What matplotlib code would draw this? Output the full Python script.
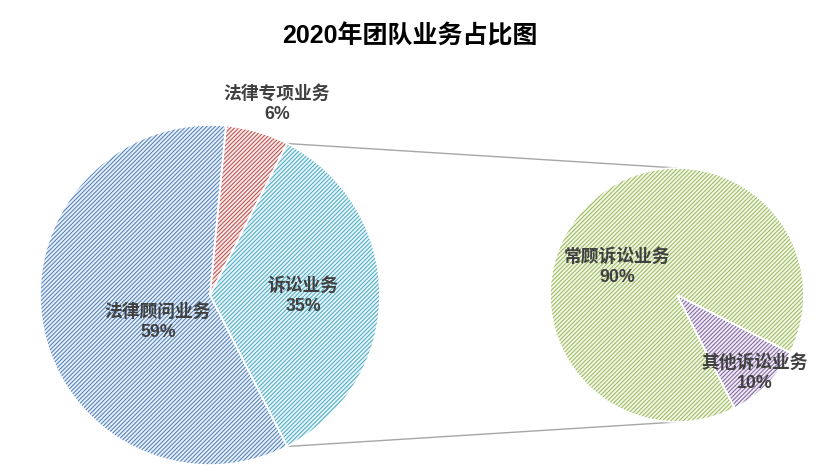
import matplotlib
matplotlib.use('Agg')
import matplotlib.pyplot as plt
import matplotlib.colors as mcolors
import numpy as np

# ---------------- data ----------------
title = '2020年团队业务占比图'
categories = ['法律顾问业务', '法律专项业务', '诉讼业务']
shares = [59, 6, 35]
sub_categories = ['常顾诉讼业务', '其他诉讼业务']
sub_shares = [90, 10]

# ---------------- style ----------------
main_colors = ['#4F81BD', '#C0504D', '#4BACC6']
sub_colors = ['#9BBB59', '#8064A2']
FONTS = ['Liberation Sans', 'Noto Sans CJK SC', 'DejaVu Sans']
plt.rcParams['font.family'] = FONTS
plt.rcParams['hatch.linewidth'] = 0.75
TXT = '#404040'

W, H = 840, 475
fig = plt.figure(figsize=(W / 100, H / 100), dpi=100)
ax = fig.add_axes([0, 0, 1, 1])


def py(y):
    return H - y


def tint(c, f=0.12):
    r = np.array(mcolors.to_rgb(c))
    return tuple(1 - f * (1 - r))


main_center = (210, py(295))
main_r = 170
sub_center = (677, py(295))
sub_r = 127

# main pie: clockwise order 专项 -> 诉讼 -> 顾问, 诉讼 slice centred at 3 o'clock
order = [1, 2, 0]
vals = [shares[i] for i in order]
cols = [main_colors[i] for i in order]
total = sum(shares)
start = shares[2] / total * 180 + shares[1] / total * 360


def hatched_pie(values, colors, center, radius, startangle):
    wedges, _ = ax.pie(values, colors=[tint(c) for c in colors], startangle=startangle,
                       counterclock=False, center=center, radius=radius, frame=True,
                       wedgeprops=dict(linewidth=0))
    for w, c in zip(wedges, colors):
        w.set_edgecolor(c)
        w.set_hatch('////////')
        w.set_linewidth(0)
    ax.pie(values, colors=['none'] * len(values), startangle=startangle,
           counterclock=False, center=center, radius=radius, frame=True,
           wedgeprops=dict(linewidth=1.2, edgecolor='white', fill=False))


hatched_pie(vals, cols, main_center, main_r, start)
hatched_pie(sub_shares, sub_colors, sub_center, sub_r, 297)

# connector lines
half = shares[2] / total * 180
a = np.deg2rad(half)
for s in (1, -1):
    x0 = main_center[0] + main_r * np.cos(a)
    y0 = main_center[1] + s * main_r * np.sin(a)
    x1 = sub_center[0]
    y1 = sub_center[1] + s * sub_r
    ax.plot([x0, x1], [y0, y1], color='#A6A6A6', lw=1.0, zorder=0.5)

# labels
label_pos = {
    '法律专项业务': (277, 104),
    '诉讼业务': (303, 296),
    '法律顾问业务': (158, 322),
    '常顾诉讼业务': (617, 267),
    '其他诉讼业务': (755, 373),
}
for name, v in zip(categories + sub_categories, shares + sub_shares):
    x, y = label_pos[name]
    ax.text(x, py(y), f'{name}\n{v}%', ha='center', va='center', fontsize=12.8,
            color=TXT, linespacing=1.25, fontweight='bold', zorder=10)

ax.text(410, py(36), title, ha='center', va='center', fontsize=18,
        fontweight='bold', color='black')

ax.set_xlim(0, W)
ax.set_ylim(0, H)
ax.set_aspect('equal', adjustable='box')
ax.axis('off')

fig.savefig('out.png', dpi=100)
